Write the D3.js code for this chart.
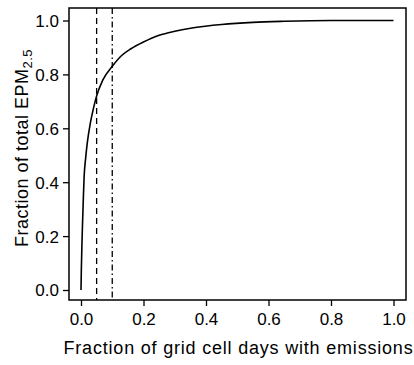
<!DOCTYPE html>
<html>
<head>
<meta charset="utf-8">
<script src="https://cdn.jsdelivr.net/npm/d3@7"></script>
<style>
  body { margin: 0; background: #fff; }
  text { font-family: "Liberation Sans", Arial, sans-serif; fill: #000; }
</style>
</head>
<body>
<svg id="chart"></svg>
<script>
let width = 414;
let height = 365;

// data
const fracDays = [0, 0.001, 0.002, 0.003, 0.005, 0.0075, 0.01, 0.015, 0.02, 0.03, 0.04, 0.05, 0.07, 0.1, 0.13, 0.16, 0.2, 0.25, 0.3, 0.36, 0.45, 0.55, 0.65, 0.8, 1.0];
const fracEPM = [0, 0.07, 0.12, 0.17, 0.25, 0.34, 0.42, 0.49, 0.545, 0.62, 0.675, 0.72, 0.78, 0.83, 0.87, 0.895, 0.92, 0.945, 0.96, 0.973, 0.985, 0.993, 0.997, 1.0, 1.0];
const refLines = [0.05, 0.1];
const xTicks = [0, 0.2, 0.4, 0.6, 0.8, 1.0];
const yTicks = [0, 0.2, 0.4, 0.6, 0.8, 1.0];

const box = { left: 69, right: 406, top: 8, bottom: 300 };

const svg = d3.select("#chart").attr("width", width).attr("height", height);

const x = d3.scaleLinear().domain([0, 1]).range([81, 393.5]);
const y = d3.scaleLinear().domain([0, 1]).range([290, 20.5]);

// plot box
svg.append("rect")
  .attr("x", box.left)
  .attr("y", box.top)
  .attr("width", box.right - box.left)
  .attr("height", box.bottom - box.top)
  .attr("fill", "none")
  .attr("stroke", "#000")
  .attr("stroke-width", 1.5);

// axes
const xAxis = d3.axisBottom(x).tickValues(xTicks).tickFormat(d3.format(".1f")).tickSize(6).tickPadding(4);
const yAxis = d3.axisLeft(y).tickValues(yTicks).tickFormat(d3.format(".1f")).tickSize(6).tickPadding(4);

const gx = svg.append("g").attr("transform", `translate(0, ${box.bottom})`).call(xAxis);
const gy = svg.append("g").attr("transform", `translate(${box.left}, 0)`).call(yAxis);

[gx, gy].forEach((g) => {
  g.select(".domain").remove();
  g.selectAll(".tick line").attr("stroke", "#000").attr("stroke-width", 1.3);
  g.selectAll(".tick text").attr("font-size", 17).attr("font-family", "Liberation Sans, Arial, sans-serif").attr("fill", "#000");
});
gx.selectAll(".tick text").attr("dy", "0.9em");
gy.selectAll(".tick text").attr("dy", "0.35em");

// reference lines
svg.selectAll(".ref")
  .data(refLines)
  .join("line")
  .attr("class", "ref")
  .attr("x1", (d) => x(d))
  .attr("x2", (d) => x(d))
  .attr("y1", box.top)
  .attr("y2", box.bottom)
  .attr("stroke", "#000")
  .attr("stroke-width", 1.3)
  .attr("stroke-dasharray", (d, i) => (i === 0 ? "6,4" : "6,3,1.5,3"));

// curve
const line = d3.line()
  .x((d, i) => x(fracDays[i]))
  .y((d) => y(d))
  .curve(d3.curveMonotoneX);

svg.append("path")
  .datum(fracEPM)
  .attr("d", line)
  .attr("fill", "none")
  .attr("stroke", "#000")
  .attr("stroke-width", 1.6);

// axis titles
svg.append("text")
  .attr("x", (box.left + box.right) / 2 + 1)
  .attr("y", 354)
  .attr("text-anchor", "middle")
  .attr("font-size", 18)
  .attr("letter-spacing", 0.8)
  .text("Fraction of grid cell days with emissions");

const yl = svg.append("text")
  .attr("transform", `translate(27.5, 148) rotate(-90)`)
  .attr("text-anchor", "middle")
  .attr("font-size", 18)
  .attr("letter-spacing", 0.5);
yl.append("tspan").text("Fraction of total EPM");
yl.append("tspan").attr("font-size", 13).attr("dy", 4).text("2.5");
</script>
</body>
</html>
